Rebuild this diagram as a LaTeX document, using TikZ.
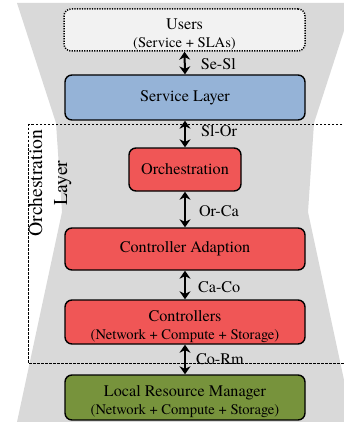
\documentclass[tikz,border=0pt]{standalone}
\usepackage{fontspec}
\setmainfont{TeX Gyre Termes}
\newfontfamily\tms{TeX Gyre Termes}
\usetikzlibrary{arrows.meta}
\definecolor{bggray}{HTML}{D9D9D9}
\definecolor{userfill}{HTML}{F2F2F2}
\definecolor{svcblue}{HTML}{95B3D7}
\definecolor{orred}{HTML}{F05656}
\definecolor{rmgreen}{HTML}{77933C}
\newcommand{\twoline}[2]{\raisebox{-9pt}[0pt][0pt]{\begin{tabular}{@{}c@{}}#1\\[-1pt]{\tms\fontsize{14.6}{17}\selectfont #2}\end{tabular}}}
\begin{document}
\begin{tikzpicture}[x=1pt,y=-1pt,
  box/.style={draw=black, line width=1.4pt, rounded corners=7pt, align=center,
    inner sep=0pt, minimum width=240pt, font=\tms\fontsize{16.2}{19}\selectfont},
  conn/.style={line width=2pt, {Stealth[length=8pt,width=11pt]}-{Stealth[length=8pt,width=11pt]}},
  lbl/.style={anchor=west, inner sep=0pt, xshift=15pt, font=\tms\fontsize{16.2}{19}\selectfont},
  layerbox/.style={draw=black, line width=0.9pt, dash pattern=on 2.5pt off 1.5pt}
]
\useasboundingbox (0,0) rectangle (344,422);
% background hourglass
\fill[bggray] (17,3) -- (353,3) -- (314,123) -- (308,212) -- (353,422) -- (17,422)
  -- (62,212) -- (56,123) -- cycle;
% orchestration layer frame
\draw[layerbox] (28,124) rectangle (356,363);
\node[rotate=90, align=center, inner sep=0pt, font=\tms\fontsize{19.7}{25}\selectfont] (orlab) at (50,183) {Orchestration\\Layer};
% boxes
\node[box, fill=userfill, draw=black, line width=1.5pt, dash pattern=on 1.2pt off 1.3pt, minimum width=241pt, minimum height=42pt] (users) at (184.5,30)
  {\twoline{Users}{(Service + SLAs)}};
\node[box, fill=svcblue, minimum height=45pt] (svc) at (185,97.5) {Service Layer};
\node[box, fill=orred, minimum width=112pt, minimum height=43pt] (orch) at (185,169.5) {Orchestration};
\node[box, fill=orred, minimum height=42pt] (ca) at (185,249) {Controller Adaption};
\node[box, fill=orred, minimum height=44pt] (ctrl) at (185,322)
  {\twoline{Controllers}{(Network + Compute + Storage)}};
\node[box, fill=rmgreen, minimum height=45pt] (lrm) at (185,397.5)
  {\twoline{Local Resource Manager}{(Network + Compute + Storage)}};
% connectors
\draw[conn] (users.south) -- (svc.north) node[lbl, midway, yshift=-1pt] {Se-Sl};
\draw[conn] (svc.south) -- (orch.north) node[lbl, midway, yshift=3pt] {Sl-Or};
\draw[conn] (orch.south) -- (ca.north) node[lbl, midway, xshift=-2pt, yshift=-2pt] {Or-Ca};
\draw[conn] (ca.south) -- (ctrl.north) node[lbl, midway, xshift=-3pt, yshift=-2pt] {Ca-Co};
\draw[conn] (ctrl.south) -- (lrm.north) node[lbl, midway, xshift=-5pt] {Co-Rm};
\end{tikzpicture}
\end{document}
